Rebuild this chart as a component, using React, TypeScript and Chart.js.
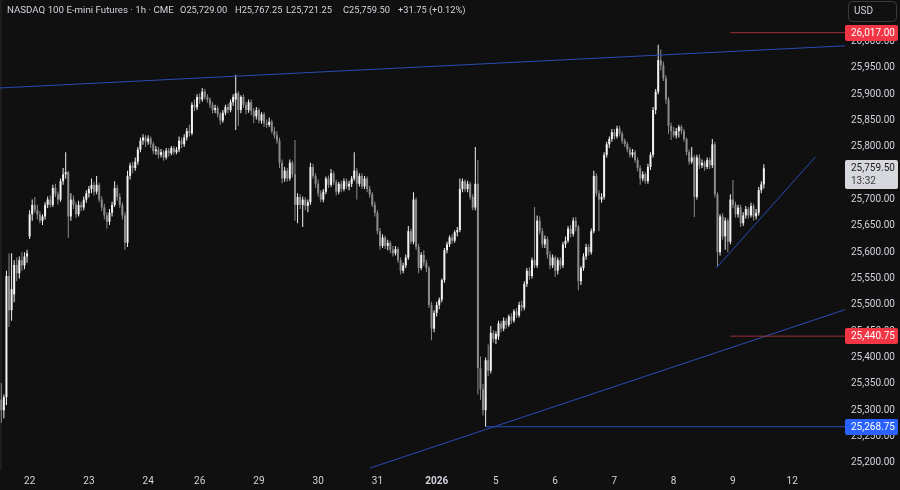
import React, { useEffect, useRef } from 'react';
import { Chart, registerables } from 'chart.js';

Chart.register(...registerables);

type Bar = [number, number, number, number]; // open, high, low, close

// ---- Hourly candles per session ----
const s19: Bar[] = [
  [25320,25352,25276,25300],[25300,25330,25285,25325],[25325,25565,25310,25555],[25555,25598,25458,25490],
  [25490,25598,25470,25530],[25520,25585,25505,25576],[25576,25590,25545,25560],[25560,25592,25550,25585],
  [25585,25600,25565,25575],[25575,25600,25568,25592],[25592,25605,25580,25598],
];
const s22: Bar[] = [
  [25630,25680,25625,25672],[25672,25700,25660,25690],[25690,25705,25675,25680],[25680,25690,25662,25672],
  [25672,25678,25655,25660],[25660,25672,25652,25668],[25668,25695,25662,25690],[25690,25706,25684,25700],
  [25700,25708,25685,25690],[25690,25728,25686,25722],[25722,25730,25705,25710],[25710,25715,25690,25700],
  [25700,25740,25696,25735],[25735,25760,25728,25748],[25748,25790,25740,25752],[25752,25755,25627,25668],
  [25668,25712,25660,25700],[25700,25708,25682,25690],[25690,25695,25665,25672],[25672,25698,25668,25690],
  [25690,25696,25678,25685],[25685,25706,25680,25700],[25700,25718,25694,25712],
];
const s23: Bar[] = [
  [25712,25726,25704,25720],[25720,25740,25712,25728],[25728,25734,25708,25715],[25715,25745,25710,25728],
  [25728,25732,25695,25700],[25700,25706,25678,25685],[25685,25692,25662,25670],[25670,25676,25645,25658],
  [25658,25682,25652,25675],[25675,25696,25668,25690],[25690,25735,25686,25722],[25722,25728,25698,25705],
  [25705,25712,25684,25690],[25690,25695,25662,25670],[25670,25676,25605,25618],[25618,25755,25610,25745],
  [25745,25770,25738,25765],[25765,25772,25750,25760],[25760,25780,25755,25772],[25772,25800,25766,25795],
  [25795,25818,25790,25812],[25812,25824,25804,25818],[25818,25822,25800,25810],
];
const s24: Bar[] = [
  [25810,25822,25804,25816],[25816,25820,25798,25805],[25805,25810,25786,25792],[25792,25802,25785,25795],
  [25795,25800,25778,25785],[25785,25796,25780,25790],[25790,25794,25774,25780],[25780,25798,25776,25793],
  [25793,25798,25782,25788],[25788,25802,25784,25798],[25798,25802,25785,25790],[25790,25800,25786,25795],
  [25795,25820,25790,25812],[25812,25818,25798,25805],[25805,25824,25800,25818],[25818,25836,25812,25830],
  [25830,25842,25820,25826],[25826,25885,25822,25880],[25880,25890,25868,25875],[25875,25900,25870,25895],
];
const s26: Bar[] = [
  [25895,25902,25882,25890],[25890,25912,25886,25905],[25905,25910,25890,25895],[25895,25900,25884,25890],
  [25890,25894,25874,25880],[25880,25886,25864,25870],[25870,25880,25864,25874],[25874,25878,25856,25862],
  [25862,25866,25842,25850],[25850,25870,25846,25865],[25865,25880,25860,25876],[25876,25882,25864,25870],
  [25870,25890,25866,25885],[25885,25900,25878,25895],[25890,25937,25832,25902],[25902,25906,25840,25870],
  [25870,25898,25864,25895],[25895,25900,25874,25880],[25880,25886,25862,25870],[25870,25890,25865,25885],
  [25885,25890,25860,25868],[25868,25874,25845,25858],[25858,25876,25852,25870],
];
const s29: Bar[] = [
  [25870,25874,25845,25850],[25850,25866,25844,25862],[25862,25866,25838,25845],[25845,25852,25836,25842],
  [25842,25856,25838,25848],[25848,25852,25826,25830],[25830,25838,25816,25822],[25822,25830,25806,25812],
  [25812,25818,25760,25770],[25770,25776,25731,25740],[25740,25762,25734,25755],[25755,25760,25734,25740],
  [25740,25776,25736,25770],[25770,25774,25742,25748],[25748,25813,25660,25690],[25690,25712,25655,25705],
  [25705,25710,25682,25690],[25690,25706,25648,25700],[25700,25705,25680,25688],[25688,25700,25676,25695],
  [25695,25770,25690,25762],[25762,25768,25740,25745],[25745,25750,25722,25730],
];
const s30: Bar[] = [
  [25730,25738,25706,25712],[25712,25718,25695,25700],[25700,25720,25695,25715],[25715,25744,25710,25740],
  [25740,25746,25722,25728],[25728,25758,25724,25750],[25750,25754,25728,25733],[25733,25738,25708,25715],
  [25715,25734,25710,25730],[25730,25736,25714,25720],[25720,25740,25716,25735],[25735,25740,25720,25725],
  [25725,25736,25718,25730],[25730,25745,25724,25740],[25740,25790,25736,25755],[25755,25760,25700,25730],
  [25730,25750,25725,25745],[25745,25750,25720,25725],[25725,25745,25720,25740],[25740,25744,25714,25720],
  [25720,25726,25704,25710],[25710,25714,25686,25690],[25690,25696,25668,25675],
];
const s31: Bar[] = [
  [25675,25680,25634,25640],[25640,25646,25605,25612],[25612,25634,25608,25628],[25628,25632,25606,25612],
  [25612,25624,25604,25618],[25618,25622,25598,25605],[25605,25612,25592,25598],[25598,25612,25594,25606],
  [25606,25610,25580,25585],[25585,25590,25558,25565],[25565,25580,25560,25575],[25575,25596,25570,25590],
  [25590,25650,25586,25640],[25640,25645,25615,25620],[25620,25714,25615,25700],[25700,25704,25605,25610],
  [25610,25616,25560,25570],[25570,25600,25566,25595],[25595,25604,25574,25580],[25580,25586,25562,25570],
  [25570,25574,25494,25500],[25500,25506,25433,25455],[25455,25490,25448,25485],
];
const s02: Bar[] = [
  [25485,25506,25478,25500],[25500,25514,25492,25510],[25510,25550,25505,25547],[25547,25608,25542,25604],
  [25604,25620,25598,25615],[25615,25632,25610,25628],[25628,25634,25616,25622],[25622,25642,25618,25638],
  [25638,25648,25630,25642],[25642,25740,25638,25720],[25720,25740,25714,25735],[25735,25738,25715,25720],
  [25720,25736,25714,25730],[25730,25734,25700,25705],[25705,25710,25680,25685],[25685,25800,25680,25730],
  [25730,25775,25330,25380],[25380,25402,25320,25340],[25340,25350,25290,25300],[25300,25400,25268.75,25395],
  [25395,25425,25365,25375],[25375,25460,25370,25447],[25447,25452,25428,25435],
];
const s05: Bar[] = [
  [25435,25450,25426,25445],[25440,25470,25434,25465],[25465,25470,25448,25455],[25455,25476,25450,25470],
  [25470,25475,25455,25462],[25462,25482,25458,25478],[25478,25484,25464,25470],[25470,25492,25466,25488],
  [25488,25494,25475,25480],[25480,25506,25476,25500],[25500,25508,25488,25495],[25495,25545,25490,25540],
  [25540,25570,25534,25565],[25565,25572,25548,25555],[25555,25590,25550,25585],[25585,25686,25570,25575],
  [25575,25670,25570,25660],[25660,25668,25634,25640],[25640,25646,25608,25615],[25615,25632,25608,25625],
  [25625,25630,25588,25595],[25595,25602,25568,25575],[25575,25596,25570,25590],
];
const s06: Bar[] = [
  [25590,25594,25553,25565],[25565,25590,25558,25585],[25585,25590,25568,25575],[25575,25620,25570,25615],
  [25615,25630,25608,25622],[25622,25650,25618,25645],[25645,25652,25628,25635],[25635,25666,25630,25660],
  [25660,25667,25640,25648],[25648,25652,25528,25545],[25545,25574,25538,25570],[25570,25598,25565,25592],
  [25592,25616,25586,25610],[25610,25615,25594,25600],[25600,25645,25596,25640],[25640,25755,25636,25745],
  [25745,25750,25706,25712],[25712,25718,25640,25700],[25700,25712,25694,25705],[25705,25790,25700,25785],
  [25785,25810,25780,25805],[25805,25820,25798,25815],[25815,25834,25810,25828],
];
const s07: Bar[] = [
  [25828,25834,25814,25820],[25820,25840,25816,25835],[25835,25840,25820,25825],[25825,25830,25806,25812],
  [25812,25816,25800,25805],[25805,25810,25790,25795],[25795,25800,25780,25785],[25785,25796,25780,25790],
  [25790,25794,25770,25775],[25775,25780,25754,25760],[25760,25765,25728,25740],[25740,25754,25735,25748],
  [25748,25752,25730,25735],[25735,25768,25730,25762],[25762,25790,25756,25785],[25785,25876,25780,25870],
  [25870,25910,25862,25905],[25905,25994,25900,25965],[25965,25985,25945,25955],[25955,25962,25925,25930],
  [25930,25936,25882,25890],[25890,25895,25825,25840],[25840,25846,25813,25830],
];
const s08: Bar[] = [
  [25830,25838,25818,25822],[25822,25836,25816,25830],[25830,25842,25818,25838],[25838,25842,25824,25830],
  [25830,25834,25810,25815],[25815,25818,25784,25790],[25790,25795,25766,25772],[25772,25800,25768,25780],
  [25780,25784,25667,25705],[25705,25785,25700,25780],[25780,25786,25758,25765],[25765,25776,25760,25770],
  [25770,25774,25755,25762],[25762,25780,25758,25775],[25775,25780,25758,25765],[25765,25815,25760,25805],
  [25805,25810,25704,25710],[25710,25714,25572,25600],[25600,25672,25594,25668],[25668,25674,25624,25630],
  [25630,25666,25605,25660],[25660,25664,25600,25620],[25620,25710,25615,25700],
];
const s09: Bar[] = [
  [25700,25737,25684,25690],[25690,25696,25666,25672],[25672,25690,25666,25685],[25685,25690,25648,25655],
  [25655,25676,25650,25670],[25670,25688,25664,25682],[25682,25686,25664,25670],[25670,25694,25666,25688],
  [25688,25692,25660,25668],[25668,25682,25662,25675],[25675,25724,25670,25718],[25718,25735,25712,25729],
  [25729,25767.25,25721.25,25759.5],
];

const sessions: Bar[][] = [s19, s22, s23, s24, s26, s29, s30, s31, s02, s05, s06, s07, s08, s09];
const sessionLabels: string[] = ['', '22', '23', '24', '26', '29', '30', '31', '2026', '5', '6', '7', '8', '9'];
const futureLabel = '12';
const barsPerSession = 23;
const emptySlotsRight = 31;

const yTickValues: number[] = [25200,25250,25300,25350,25400,25450,25500,25550,25600,25650,25700,25750,25800,25850,25900,25950,26000];
const yMin = 25186.6;
const yMax = 26079;

const levelRed1 = 26017;
const levelRed2 = 25440.75;
const levelBlue = 25268.75;
const lastPrice = 25759.5;
const countdown = '13:32';

const title = 'NASDAQ 100 E-mini Futures · 1h · CME';
const ohlcTexts: string[] = ['O25,729.00', 'H25,767.25', 'L25,721.25', 'C25,759.50', '+31.75 (+0.12%)'];

const UP = '#f2f2f2';
const DOWN = '#8c8c8c';
const BG = '#101010';
const TEXT = '#d1d4dc';
const BLUE_LINE = '#2a4bb4';
const RED_LINE = '#9c2f37';

function fmt(v: number): string {
  return v.toLocaleString('en-US', { minimumFractionDigits: 2, maximumFractionDigits: 2 });
}

export default function App() {
  const ref = useRef<HTMLCanvasElement | null>(null);

  useEffect(() => {
    const candles: Bar[] = [];
    const labels: string[] = [];
    const sessionStarts: number[] = [];
    sessions.forEach((s, k) => {
      sessionStarts.push(candles.length);
      s.forEach((b, j) => {
        candles.push(b);
        labels.push(j === 0 ? sessionLabels[k] : '');
      });
    });
    const lastStart = sessionStarts[sessionStarts.length - 1];
    const total = candles.length + emptySlotsRight;
    while (labels.length < total) labels.push('');
    labels[lastStart + barsPerSession] = futureLabel;
    const lastIdx = total - 0.5;

    const lowIdx = candles.findIndex((b) => b[2] === levelBlue);
    const bodyData = labels.map((_, i) => (candles[i] ? [candles[i][0], candles[i][3]] : null));
    const wickData = labels.map((_, i) => (candles[i] ? [candles[i][2], candles[i][1]] : null));
    const colors = labels.map((_, i) => (candles[i] && candles[i][3] >= candles[i][0] ? UP : DOWN));

    // trend lines: [index, price] anchors
    const lines: { a: [number, number]; b: [number, number]; color: string; from: number; to: number }[] = [
      { a: [-0.5, 25912], b: [lastIdx, 25992], color: BLUE_LINE, from: -0.5, to: lastIdx },
      { a: [143, 25190], b: [lastIdx, 25491], color: BLUE_LINE, from: 143, to: lastIdx },
      { a: [277.5, 25570], b: [316, 25781], color: BLUE_LINE, from: 277.5, to: 316 },
      { a: [lowIdx, levelBlue], b: [lastIdx, levelBlue], color: BLUE_LINE, from: lowIdx, to: lastIdx },
      { a: [283, levelRed1], b: [lastIdx, levelRed1], color: RED_LINE, from: 283, to: lastIdx },
      { a: [283, levelRed2], b: [lastIdx, levelRed2], color: RED_LINE, from: 283, to: lastIdx },
    ];

    const overlay = {
      id: 'overlay',
      beforeDraw(chart: any) {
        const c = chart.ctx;
        c.save();
        c.fillStyle = BG;
        c.fillRect(0, 0, chart.width, chart.height);
        c.fillStyle = '#1d1d1d';
        c.fillRect(0, 0, 2, chart.chartArea.bottom);
        c.restore();
      },
      afterDatasetsDraw(chart: any) {
        const c = chart.ctx;
        const xs = chart.scales.x;
        const ys = chart.scales.y;
        const area = chart.chartArea;
        c.save();
        c.beginPath();
        c.rect(area.left, area.top, area.right - area.left, area.bottom - area.top);
        c.clip();
        c.lineWidth = 1;
        lines.forEach((l) => {
          const slope = (l.b[1] - l.a[1]) / (l.b[0] - l.a[0]);
          const p1 = l.a[1] + slope * (l.from - l.a[0]);
          const p2 = l.a[1] + slope * (l.to - l.a[0]);
          c.strokeStyle = l.color;
          c.beginPath();
          c.moveTo(xs.getPixelForValue(l.from), ys.getPixelForValue(p1));
          c.lineTo(xs.getPixelForValue(l.to), ys.getPixelForValue(p2));
          c.stroke();
        });
        c.restore();
      },
      afterDraw(chart: any) {
        const c = chart.ctx;
        const ys = chart.scales.y;
        const left = chart.chartArea.right;
        c.save();
        c.font = '10px Roboto';
        c.textBaseline = 'middle';
        c.textAlign = 'left';
        const box = (price: number, bg: string, fg: string) => {
          const y = Math.round(ys.getPixelForValue(price));
          c.fillStyle = bg;
          c.beginPath();
          c.roundRect(left, y - 8, 53, 16, 2);
          c.fill();
          c.fillStyle = fg;
          c.fillText(fmt(price), left + 6, y + 0.5);
        };
        box(levelRed1, '#f23645', '#ffffff');
        box(levelRed2, '#f23645', '#ffffff');
        box(levelBlue, '#2962ff', '#ffffff');
        // current price with countdown
        const yl = Math.round(ys.getPixelForValue(lastPrice));
        c.fillStyle = '#d6d8de';
        c.beginPath();
        c.roundRect(left, yl - 8, 53, 29, 2);
        c.fill();
        c.fillStyle = '#1a1a1a';
        c.fillText(fmt(lastPrice), left + 6, yl + 0.5);
        c.fillStyle = '#3a3a3a';
        c.fillText(countdown, left + 6, yl + 13);

        // currency button
        c.strokeStyle = '#3a3a3a';
        c.lineWidth = 1;
        c.beginPath();
        c.roundRect(left + 3.5, 1.5, 48, 20, 4);
        c.stroke();
        c.fillStyle = TEXT;
        c.fillText('USD', left + 9, 11.5);

        // header
        c.fillStyle = TEXT;
        c.font = '9.7px Roboto';
        c.fillText(title, 7, 10.5);
        c.font = '9.3px Roboto';
        const xsPos = [180, 235, 286, 343, 398];
        ohlcTexts.forEach((t, i) => c.fillText(t, xsPos[i], 10.5));
        c.restore();
      },
    };

    const chart = new Chart(ref.current as HTMLCanvasElement, {
      type: 'bar',
      data: {
        labels,
        datasets: [
          {
            data: wickData as any,
            backgroundColor: colors,
            barThickness: 1,
            grouped: false,
            order: 2,
            inflateAmount: 0,
            borderWidth: 0,
          } as any,
          {
            data: bodyData as any,
            backgroundColor: colors,
            barThickness: 2,
            grouped: false,
            order: 1,
            inflateAmount: 0,
            borderWidth: 0,
          } as any,
        ],
      },
      options: {
        animation: false,
        responsive: true,
        maintainAspectRatio: false,
        layout: { padding: 0 },
        plugins: { legend: { display: false }, tooltip: { enabled: false } },
        scales: {
          x: {
            type: 'category',
            offset: true,
            grid: { display: false, drawTicks: false },
            border: { display: false },
            ticks: {
              autoSkip: false,
              maxRotation: 0,
              minRotation: 0,
              padding: 5,
              color: TEXT,
              font: (ctx: any) => ({
                family: 'Roboto',
                size: 10,
                weight: labels[ctx.index] === '2026' ? 'bold' : 'normal',
              }),
              callback: (_v: any, i: number) => labels[i],
            },
            afterFit: (s: any) => {
              s.height = 20;
              s.paddingLeft = 0;
              s.paddingRight = 0;
            },
          } as any,
          y: {
            position: 'right',
            min: yMin,
            max: yMax,
            grid: { display: false, drawTicks: false },
            border: { display: false },
            ticks: {
              padding: 6,
              color: TEXT,
              font: { family: 'Roboto', size: 10 },
              callback: (v: any) => fmt(Number(v)),
            },
            afterBuildTicks: (s: any) => {
              s.ticks = yTickValues.map((v) => ({ value: v }));
            },
            afterFit: (s: any) => {
              s.width = 55;
              s.paddingTop = 0;
              s.paddingBottom = 0;
            },
          } as any,
        },
      },
      plugins: [overlay],
    });
    return () => chart.destroy();
  }, []);

  return (
    <div style={{ position: 'fixed', left: 0, top: 0, width: 900, height: 490, background: BG }}>
      <canvas ref={ref} />
    </div>
  );
}
